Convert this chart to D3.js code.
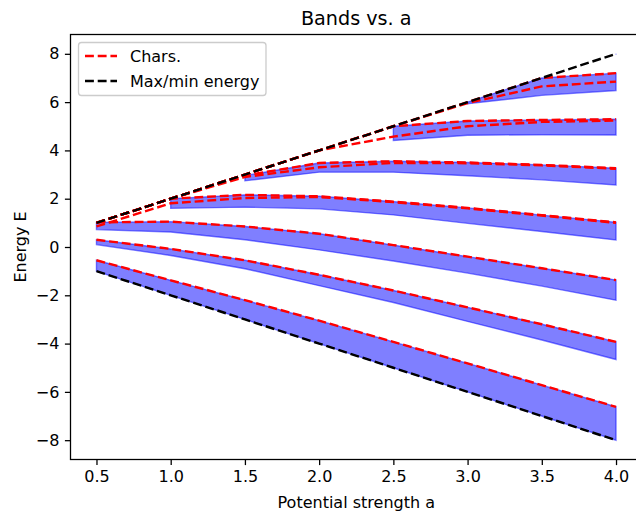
<!DOCTYPE html>
<html><head><meta charset="utf-8">
<script src="https://cdn.jsdelivr.net/npm/d3@7"></script>
<style>body{margin:0;background:#fff}svg{display:block}text{font-family:"DejaVu Sans",sans-serif;fill:#000}</style>
</head><body><svg id="c" width="636" height="512"></svg>
<script>
// ---- data ----
const aValues = [0.5, 1.0, 1.5, 2.0, 2.5, 3.0, 3.5, 4.0];
const maxEnergy = [1, 2, 3, 4, 5, 6, 7, 8];
const minEnergy = [-1, -2, -3, -4, -5, -6, -7, -8];

const band1Lo = [-1, -2, -3, -4, -5, -6, -7, -8];
const band1Hi = [-0.55, -1.38, -2.2, -3.05, -3.93, -4.82, -5.72, -6.62];
const band2Lo = [0.1, -0.35, -0.9, -1.6, -2.3, -3.08, -3.85, -4.66];
const band2Hi = [0.3, -0.08, -0.55, -1.15, -1.8, -2.5, -3.2, -3.93];
const band3Lo = [0.72, 0.62, 0.3, -0.12, -0.58, -1.08, -1.62, -2.2];
const band3Hi = [1.02, 1.05, 0.85, 0.55, 0.08, -0.4, -0.88, -1.37];
const band4Lo = [null, 1.6, 1.65, 1.58, 1.33, 0.98, 0.64, 0.29];
const band4Hi = [null, 2.0, 2.16, 2.1, 1.88, 1.62, 1.32, 1.02];
const band5Lo = [null, null, 2.74, 3.1, 3.1, 2.95, 2.78, 2.57];
const band5Hi = [null, null, 2.96, 3.48, 3.55, 3.5, 3.4, 3.26];
const band6Lo = [null, null, null, null, 4.41, 4.63, 4.65, 4.64];
const band6Hi = [null, null, null, null, 5.0, 5.22, 5.26, 5.29];
const band7Lo = [null, null, null, null, null, 5.93, 6.28, 6.48];
const band7Hi = [null, null, null, null, null, 6.0, 7.0, 7.2];
const band8Lo = [null, null, null, null, null, null, null, 7.97];
const band8Hi = [null, null, null, null, null, null, null, 8.0];

const char1 = [-0.55, -1.38, -2.2, -3.05, -3.93, -4.82, -5.72, -6.62];
const char2 = [0.3, -0.08, -0.55, -1.15, -1.8, -2.5, -3.2, -3.93];
const char3 = [1.02, 1.05, 0.85, 0.55, 0.08, -0.4, -0.88, -1.37];
const char4a = [1.0, 2.0, 2.16, 2.1, 1.88, 1.62, 1.32, 1.02];
const char4b = [0.85, 1.81, 2.03, 2.07, 1.86, 1.6, 1.3, 1.0];
const char5a = [1.0, 2.0, 2.96, 3.48, 3.55, 3.5, 3.4, 3.26];
const char5b = [1.0, 2.0, 2.9, 3.3, 3.48, 3.47, 3.38, 3.24];
const char6a = [1.0, 2.0, 3.0, 4.0, 5.0, 5.22, 5.26, 5.29];
const char6b = [1.0, 2.0, 3.0, 4.0, 4.57, 5.0, 5.18, 5.24];
const char7a = [1.0, 2.0, 3.0, 4.0, 5.0, 6.0, 7.0, 7.2];
const char7b = [1.0, 2.0, 3.0, 4.0, 5.0, 5.96, 6.65, 6.85];

const xTicks = [0.5, 1.0, 1.5, 2.0, 2.5, 3.0, 3.5, 4.0];
const yTicks = [-8, -6, -4, -2, 0, 2, 4, 6, 8];

// ---- layout (1pt = 1.6px) ----
const PT = 1.6;
const svg = d3.select("#c");
const L = 70.5, R = 642, T = 34.5, B = 459.5;
const x = d3.scaleLinear().domain([0.325, 4.175]).range([L, R]);
const y = d3.scaleLinear().domain([-8.8, 8.8]).range([B, T]);
const DASH = `${3.7 * 1.5 * PT},${1.6 * 1.5 * PT}`;

svg.append("defs").append("clipPath").attr("id", "clip")
  .append("rect").attr("x", L).attr("y", T).attr("width", R - L).attr("height", B - T);
const plot = svg.append("g").attr("clip-path", "url(#clip)");

const bands = [[band1Lo, band1Hi], [band2Lo, band2Hi], [band3Lo, band3Hi], [band4Lo, band4Hi],
               [band5Lo, band5Hi], [band6Lo, band6Hi], [band7Lo, band7Hi], [band8Lo, band8Hi]];
const area = d3.area().defined(d => d.lo != null)
  .x(d => x(d.a)).y0(d => y(d.lo)).y1(d => y(d.hi));
bands.forEach(([lo, hi]) => {
  const pts = aValues.map((a, i) => ({a, lo: lo[i], hi: hi[i]}));
  plot.append("path").attr("d", area(pts))
    .attr("fill", "rgba(0,0,255,0.5)").attr("stroke", "rgba(0,0,255,0.5)").attr("stroke-width", 1.4);
});

const line = d3.line().defined(d => d.v != null).x(d => x(d.a)).y(d => y(d.v));
const chars = [char1, char2, char3, char4a, char4b, char5a, char5b, char6a, char6b, char7a, char7b];
chars.forEach(c => {
  plot.append("path").attr("d", line(aValues.map((a, i) => ({a, v: c[i]}))))
    .attr("fill", "none").attr("stroke", "#ff0000").attr("stroke-width", 1.5 * PT)
    .attr("stroke-dasharray", DASH);
});
[maxEnergy, minEnergy].forEach(c => {
  plot.append("path").attr("d", line(aValues.map((a, i) => ({a, v: c[i]}))))
    .attr("fill", "none").attr("stroke", "#000").attr("stroke-width", 1.5 * PT)
    .attr("stroke-dasharray", DASH);
});

// ---- axes ----
const TK = 3.5 * PT;
const xAxis = svg.append("g").attr("transform", `translate(0,${B})`)
  .call(d3.axisBottom(x).tickValues(xTicks).tickFormat(d3.format(".1f")).tickSize(TK).tickPadding(TK).tickSizeOuter(0));
const yAxis = svg.append("g").attr("transform", `translate(${L},0)`)
  .call(d3.axisLeft(y).tickValues(yTicks).tickFormat(d3.format("d")).tickSize(TK).tickPadding(TK).tickSizeOuter(0));
[xAxis, yAxis].forEach(g => {
  g.select(".domain").remove();
  g.selectAll(".tick line").attr("stroke", "#000").attr("stroke-width", 0.8 * PT);
  g.selectAll(".tick text").attr("font-size", "16px").attr("font-family", "DejaVu Sans").attr("fill", "#000");
});
svg.append("rect").attr("x", L).attr("y", T).attr("width", R - L).attr("height", B - T)
  .attr("fill", "none").attr("stroke", "#000").attr("stroke-width", 0.8 * PT);

svg.append("text").attr("x", (L + R) / 2).attr("y", 25).attr("text-anchor", "middle")
  .attr("font-size", "19.2px").text("Bands vs. a");
svg.append("text").attr("x", (L + R) / 2).attr("y", 508).attr("text-anchor", "middle")
  .attr("font-size", "16px").text("Potential strength a");
svg.append("text").attr("transform", "translate(26,247) rotate(-90)").attr("text-anchor", "middle")
  .attr("font-size", "16px").text("Energy E");

// ---- legend ----
const lg = svg.append("g");
lg.append("rect").attr("x", 78.5).attr("y", 42.5).attr("width", 187.5).attr("height", 53)
  .attr("rx", 3).attr("fill", "#fff").attr("fill-opacity", 0.8).attr("stroke", "#cccccc").attr("stroke-width", 1.3);
const legendItems = [["Chars.", "#ff0000"], ["Max/min energy", "#000"]];
legendItems.forEach(([label, col], i) => {
  const yy = 56 + i * 25;
  lg.append("line").attr("x1", 85).attr("x2", 117).attr("y1", yy).attr("y2", yy)
    .attr("stroke", col).attr("stroke-width", 1.5 * PT).attr("stroke-dasharray", DASH);
  lg.append("text").attr("x", 130).attr("y", yy + 5.8).attr("font-size", "16px").text(label);
});
</script></body></html>
